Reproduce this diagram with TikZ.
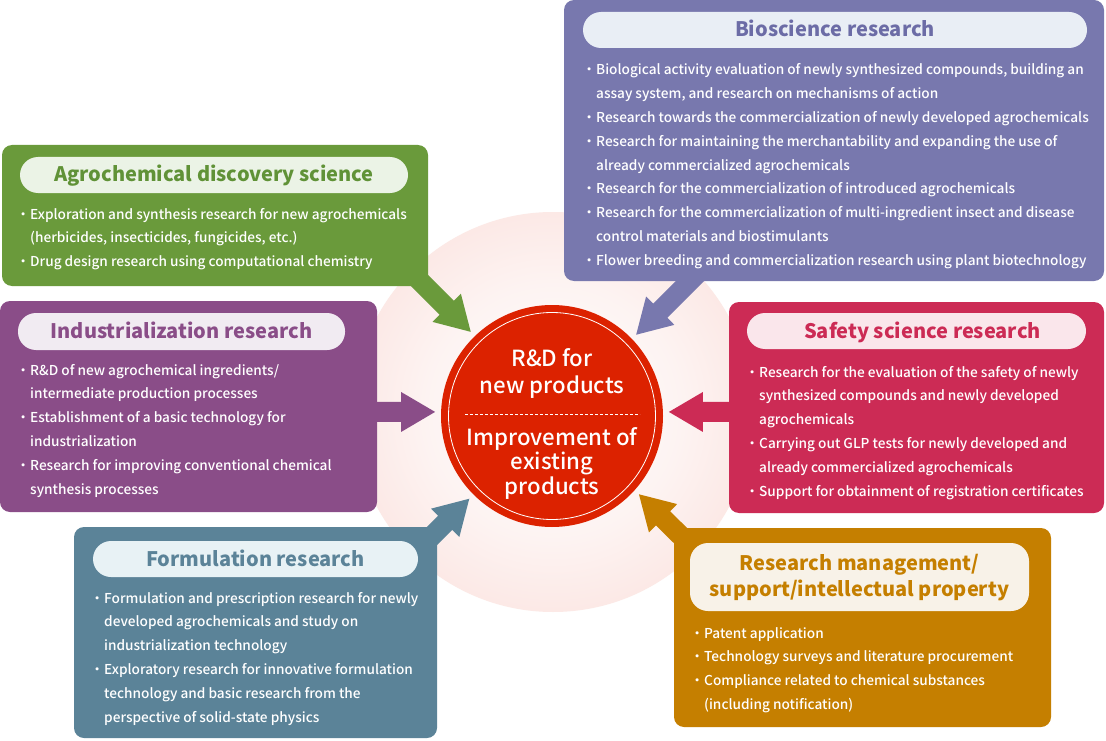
\documentclass[tikz,border=0pt]{standalone}
\usepackage{fontspec}
\setmainfont{Noto Sans CJK JP}
\IfFontExistsTF{Noto Sans CJK JP Medium}{\newfontfamily\medfont{Noto Sans CJK JP Medium}}{\newcommand\medfont{}}
\usetikzlibrary{calc}
\definecolor{grn}{RGB}{106,154,59}
\definecolor{grnP}{RGB}{235,243,230}
\definecolor{grnT}{RGB}{96,146,55}
\definecolor{bio}{RGB}{120,120,174}
\definecolor{bioP}{RGB}{233,238,245}
\definecolor{bioT}{RGB}{108,108,166}
\definecolor{ind}{RGB}{138,77,136}
\definecolor{indP}{RGB}{241,235,242}
\definecolor{saf}{RGB}{204,43,85}
\definecolor{safP}{RGB}{250,230,235}
\definecolor{frm}{RGB}{91,131,152}
\definecolor{frmP}{RGB}{232,242,245}
\definecolor{mng}{RGB}{197,127,0}
\definecolor{mngP}{RGB}{248,242,232}
\definecolor{rdred}{RGB}{220,34,0}
\definecolor{bgpink}{RGB}{248,208,202}
\pgfdeclareradialshading{bgglow}{\pgfpoint{0bp}{0bp}}{color(0bp)=(white); color(16bp)=(bgpink!25!white); color(32bp)=(bgpink!65!white); color(50bp)=(bgpink)}
\newcommand\ctr[2]{\vtop{\baselineskip=#1\relax\lineskiplimit=-50pt\halign{\hfil##\hfil\cr#2\cr}}}
\newcommand\bl[1]{\vtop{\baselineskip=23.8pt\relax\lineskiplimit=-50pt #1}}
\newcommand\bi[1]{\hbox{\hbox to 14pt{\hss ・\hss}#1}}
\newcommand\bc[1]{\hbox{\hskip14pt #1}}
\tikzset{
  panel/.style={rectangle, rounded corners=10pt, inner sep=0pt, outer sep=0pt},
  pillst/.style={rectangle, rounded corners=18pt, inner sep=0pt, outer sep=0pt},
  ttl/.style={anchor=base, inner sep=0pt, font=\fontsize{20}{26}\selectfont\bfseries},
  lst/.style={anchor=base west, inner sep=0pt, text=white, font=\medfont\fontsize{13.65}{23.8}\selectfont},
  circtxt/.style={anchor=base, inner sep=0pt, text=white, font=\medfont\fontsize{22.2}{27}\selectfont},
  fat/.style={to path={
    ($(\tikztostart)!10pt!90:(\tikztotarget)$)
    -- ($($(\tikztotarget)!34pt!(\tikztostart)$)!10pt!90:(\tikztotarget)$)
    -- ($($(\tikztotarget)!34pt!(\tikztostart)$)!20pt!90:(\tikztotarget)$)
    -- (\tikztotarget)
    -- ($($(\tikztotarget)!34pt!(\tikztostart)$)!20pt!-90:(\tikztotarget)$)
    -- ($($(\tikztotarget)!34pt!(\tikztostart)$)!10pt!-90:(\tikztotarget)$)
    -- ($(\tikztostart)!10pt!-90:(\tikztotarget)$) -- cycle}}
}
\begin{document}
\begin{tikzpicture}[x=1pt,y=-1pt]
\useasboundingbox (0,0) rectangle (1106,741);
\fill[white] (0,0) rectangle (1106,741);
% glow
\shade[shading=bgglow] (553,412) circle[radius=200pt];
% centre
\node[circle, fill=rdred, minimum size=222pt, inner sep=0pt, outer sep=6pt] (rd) at (552,416) {};
\draw[white, line width=0.8pt] (rd.center) circle[radius=103.5pt];
\node[circtxt] (rdA) at (552,366) {\ctr{27pt}{R\&D for\cr new products}};
\draw[white, line width=0.7pt, dash pattern=on 3pt off 2pt] (465,414) -- (640,414);
\node[circtxt] (rdB) at (552,445) {\ctr{24.5pt}{Improvement of\cr existing\cr products}};
% arrow start points
\coordinate (agroA) at (400,261);
\coordinate (bioA) at (705,266);
\coordinate (indA) at (370,412);
\coordinate (safA) at (740,412);
\coordinate (frmA) at (410,558);
\coordinate (mngA) at (700,555);
\fill[grn] (agroA) to[fat] (rd.134);
\fill[bio] (bioA) to[fat] (rd.44);
\fill[ind] (indA) to[fat] (rd.178);
\fill[saf] (safA) to[fat] (rd.2);
\fill[frm] (frmA) to[fat] (rd.225);
\fill[mng] (mngA) to[fat] (rd.318);
% Agrochemical discovery science
\node[panel, fill=grn, minimum width=426pt, minimum height=141pt] (agro) at (215,215.5) {};
\node[pillst, fill=grnP, minimum width=388pt, minimum height=36pt] (agroP) at (214,175) {};
\node[ttl, text=grnT] (agroT) at (214,182) {Agrochemical discovery science};
\node[lst] (agroL) at (16,219) {\bl{%
\bi{Exploration and synthesis research for new agrochemicals}
\bc{(herbicides, insecticides, fungicides, etc.)}
\bi{Drug design research using computational chemistry}}};
% Bioscience research
\node[panel, fill=bio, minimum width=540pt, minimum height=281pt] (bios) at (834,140.5) {};
\node[pillst, fill=bioP, minimum width=504pt, minimum height=36pt] (bioP) at (835,30) {};
\node[ttl, text=bioT] (bioT) at (835,37) {Bioscience research};
\node[lst] (bioL) at (582,75) {\bl{%
\bi{Biological activity evaluation of newly synthesized compounds, building an}
\bc{assay system, and research on mechanisms of action}
\bi{Research towards the commercialization of newly developed agrochemicals}
\bi{Research for maintaining the merchantability and expanding the use of}
\bc{already commercialized agrochemicals}
\bi{Research for the commercialization of introduced agrochemicals}
\bi{Research for the commercialization of multi-ingredient insect and disease}
\bc{control materials and biostimulants}
\bi{Flower breeding and commercialization research using plant biotechnology}}};
% Industrialization research
\node[panel, fill=ind, minimum width=377pt, minimum height=211pt] (ind) at (188.5,406.5) {};
\node[pillst, fill=indP, minimum width=327pt, minimum height=37pt] (indP) at (181.5,331.5) {};
\node[ttl, text=ind] (indT) at (181.5,338) {Industrialization research};
\node[lst] (indL) at (16,375) {\bl{%
\bi{R\&D of new agrochemical ingredients/}
\bc{intermediate production processes}
\bi{Establishment of a basic technology for}
\bc{industrialization}
\bi{Research for improving conventional chemical}
\bc{synthesis processes}}};
% Safety science research
\node[panel, fill=saf, minimum width=375pt, minimum height=211pt] (saf) at (916.5,407.5) {};
\node[pillst, fill=safP, minimum width=339pt, minimum height=36pt] (safP) at (916.5,331) {};
\node[ttl, text=saf] (safT) at (922.5,338) {Safety science research};
\node[lst] (safL) at (745,377) {\bl{%
\bi{Research for the evaluation of the safety of newly}
\bc{synthesized compounds and newly developed}
\bc{agrochemicals}
\bi{Carrying out GLP tests for newly developed and}
\bc{already commercialized agrochemicals}
\bi{Support for obtainment of registration certificates}}};
% Formulation research
\node[panel, fill=frm, minimum width=363pt, minimum height=211pt] (frm) at (255.5,632.5) {};
\node[pillst, fill=frmP, minimum width=325pt, minimum height=36pt] (frmP) at (255.5,559) {};
\node[ttl, text=frm] (frmT) at (255.5,566) {Formulation research};
\node[lst] (frmL) at (90,603) {\bl{%
\bi{Formulation and prescription research for newly}
\bc{developed agrochemicals and study on}
\bc{industrialization technology}
\bi{Exploratory research for innovative formulation}
\bc{technology and basic research from the}
\bc{perspective of solid-state physics}}};
% Research management
\node[panel, fill=mng, minimum width=377pt, minimum height=199pt] (mng) at (862.5,627.5) {};
\node[pillst, fill=mngP, minimum width=339pt, minimum height=68pt] (mngP) at (859.5,577) {};
\node[ttl, text=mng] (mngT) at (859.5,570) {\ctr{26pt}{Research management/\cr support/intellectual property}};
\node[lst] (mngL) at (690,638) {\bl{%
\bi{Patent application}
\bi{Technology surveys and literature procurement}
\bi{Compliance related to chemical substances}
\bc{(including notification)}}};
\end{tikzpicture}
\end{document}
